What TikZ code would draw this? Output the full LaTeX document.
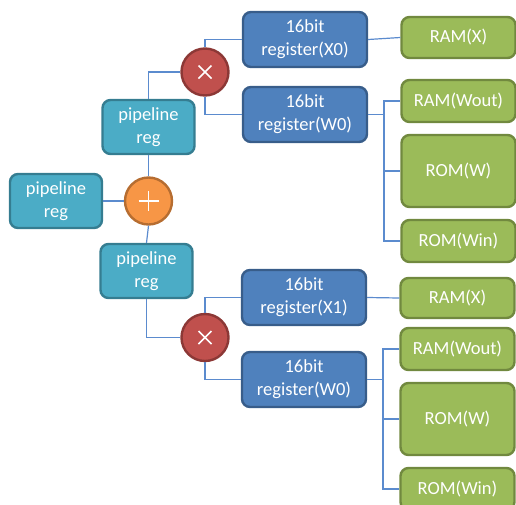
\documentclass[tikz,border=0pt]{standalone}
\usepackage{fontspec}
\setmainfont{Carlito}
\begin{document}
\definecolor{aquaF}{RGB}{75,172,198}
\definecolor{aquaD}{RGB}{53,125,145}
\definecolor{blueF}{RGB}{79,129,189}
\definecolor{blueD}{RGB}{56,93,138}
\definecolor{greenF}{RGB}{155,187,89}
\definecolor{greenD}{RGB}{113,137,63}
\definecolor{redF}{RGB}{192,80,77}
\definecolor{redD}{RGB}{140,56,54}
\definecolor{orangeF}{RGB}{247,150,70}
\definecolor{orangeD}{RGB}{182,109,49}
\definecolor{wire}{RGB}{91,139,206}
\begin{tikzpicture}[x=1pt,y=-1pt,
  base/.style={rounded corners=8pt, line width=2.4pt, text=white, align=center,
    inner sep=0pt, font=\fontsize{18.5}{23}\selectfont},
  pipe/.style={base, fill=aquaF, draw=aquaD, minimum width=92pt, minimum height=54pt},
  reg/.style={base, fill=blueF, draw=blueD, minimum width=124pt, minimum height=55pt},
  mem/.style={base, fill=greenF, draw=greenD, minimum width=114pt},
  op/.style={circle, line width=2.4pt, inner sep=0pt, minimum size=47pt},
  mulop/.style={op, fill=redF, draw=redD,
    path picture={\draw[white,line width=1.6pt]
      (path picture bounding box.center) ++(-6.5,-6.5) -- ++(13,13)
      (path picture bounding box.center) ++(-6.5,6.5) -- ++(13,-13);}},
  addop/.style={op, fill=orangeF, draw=orangeD,
    path picture={\draw[white,line width=1.6pt]
      (path picture bounding box.center) ++(-10,0) -- ++(20,0)
      (path picture bounding box.center) ++(0,-10) -- ++(0,20);}},
  link/.style={draw=wire, line width=1.2pt}]
\useasboundingbox (0,0) rectangle (516,504);
\clip (0,0) rectangle (516,504);

% adder stage
\node[pipe] (lp) at (56,201) {pipeline\\reg};
\node[addop] (plus) at (148.5,201) {};
\node[pipe] (up) at (148.5,127) {pipeline\\reg};
\node[pipe] (lo) at (146.5,271) {pipeline\\reg};

% multipliers
\node[mulop] (m1) at (205,72) {};
\node[mulop] (m2) at (205,337.5) {};

% registers
\node[reg] (x0) at (305,39.5) {16bit\\register(X0)};
\node[reg] (w0a) at (305,114.5) {16bit\\register(W0)};
\node[reg] (x1) at (304,297.5) {16bit\\register(X1)};
\node[reg] (w0b) at (304,379.5) {16bit\\register(W0)};

% memories, upper branch
\node[mem, minimum height=41pt] (ramx1) at (458.5,37.5) {RAM(X)};
\node[mem, minimum height=42pt] (ramw1) at (458.5,101) {RAM(Wout)};
\node[mem, minimum height=72pt] (romw1) at (458.5,171) {ROM(W)};
\node[mem, minimum height=42pt] (romwin1) at (458.5,241) {ROM(Win)};

% memories, lower branch
\node[mem, minimum height=40pt] (ramx2) at (457.5,298) {RAM(X)};
\node[mem, minimum height=42pt] (ramw2) at (457.5,349) {RAM(Wout)};
\node[mem, minimum height=72pt] (romw2) at (457.5,419) {ROM(W)};
\node[mem, minimum height=42pt] (romwin2) at (457.5,489) {ROM(Win)};

\coordinate (ja) at (384,114.5);
\coordinate (jb) at (383,379.5);

% wiring
\begin{scope}[on background layer/.style={}]
\path[link] (lp.east) -- (plus.west);
\path[link] (plus.north) -- (up.south);
\path[link] (plus.south) -- (lo.north);
\path[link] (up.north) |- (m1.west);
\path[link] (m1.north) |- (x0.west);
\path[link] (m1.south) |- (w0a.west);
\path[link] (lo.south) |- (m2.west);
\path[link] (m2.north) |- (x1.west);
\path[link] (m2.south) |- (w0b.west);
\path[link] (x0.east) -- (ramx1.west);
\path[link] (x1.east) -- (ramx2.west);
\path[link] (w0a.east) -- (ja);
\path[link] (ja) |- (ramw1.west);
\path[link] (ja) |- (romw1.west);
\path[link] (ja) |- (romwin1.west);
\path[link] (w0b.east) -- (jb);
\path[link] (jb) |- (ramw2.west);
\path[link] (jb) |- (romw2.west);
\path[link] (jb) |- (romwin2.west);
\end{scope}
\end{tikzpicture}
\end{document}
